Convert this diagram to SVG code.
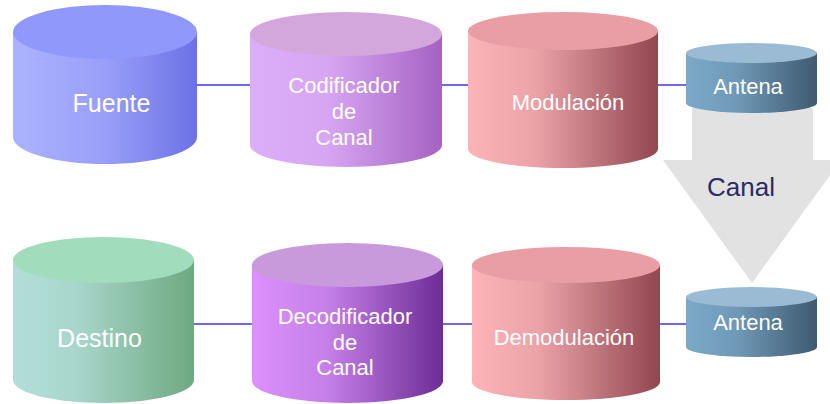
<svg xmlns="http://www.w3.org/2000/svg" width="830" height="404" viewBox="0 0 830 404">
<defs>
<linearGradient id="gBlue" x1="0" x2="1" y1="0" y2="0"><stop offset="0" stop-color="#acb3fd"/><stop offset="0.5" stop-color="#999ff8"/><stop offset="1" stop-color="#6b72e6"/></linearGradient>
<linearGradient id="gLil" x1="0" x2="1" y1="0" y2="0"><stop offset="0" stop-color="#dcaefa"/><stop offset="0.4" stop-color="#d7a6f2"/><stop offset="1" stop-color="#a462c2"/></linearGradient>
<linearGradient id="gPink" x1="0" x2="1" y1="0" y2="0"><stop offset="0" stop-color="#fcb4b9"/><stop offset="0.35" stop-color="#eba3a8"/><stop offset="1" stop-color="#924650"/></linearGradient>
<linearGradient id="gSteel" x1="0" x2="1" y1="0" y2="0"><stop offset="0" stop-color="#7ca9c9"/><stop offset="0.4" stop-color="#6e98b6"/><stop offset="1" stop-color="#3e5a70"/></linearGradient>
<linearGradient id="gGreen" x1="0" x2="1" y1="0" y2="0"><stop offset="0" stop-color="#b2ded8"/><stop offset="0.35" stop-color="#a8d6cc"/><stop offset="1" stop-color="#6ea880"/></linearGradient>
<linearGradient id="gPurple" x1="0" x2="1" y1="0" y2="0"><stop offset="0" stop-color="#dd90fb"/><stop offset="0.4" stop-color="#c47fe6"/><stop offset="1" stop-color="#6d2c96"/></linearGradient>
</defs>
<style>
.lbl{font-family:"Liberation Sans",Arial,sans-serif;font-size:22px;fill:#ffffff;text-anchor:middle;dominant-baseline:central}
.big{font-size:25px}
.conn{stroke:#6a6af2;stroke-width:2;fill:none}
</style>
<g id="connectors">
<path d="M692,108 L813,108 L813,160 L841,160 L752,283 L663,160 L692,160 Z" fill="#e2e2e2"/>
<text x="741" y="187" font-family="'Liberation Sans',Arial,sans-serif" font-size="26" fill="#2b2b66" text-anchor="middle" dominant-baseline="central">Canal</text>
<line class="conn" x1="196" y1="85" x2="251" y2="85"/>
<line class="conn" x1="441" y1="85" x2="469" y2="85"/>
<line class="conn" x1="657" y1="85" x2="687" y2="85"/>
<line class="conn" x1="193" y1="324" x2="253" y2="324" stroke-width="1.5"/>
<line class="conn" x1="442" y1="324" x2="473" y2="324" stroke-width="1.5"/>
<line class="conn" x1="659" y1="324" x2="687" y2="324" stroke-width="1.5"/>
</g>
<g id="fuente">
<path d="M13,32 L13,137 A92,27 0 0 0 197,137 L197,32 Z" fill="url(#gBlue)"/>
<ellipse cx="105" cy="32" rx="92" ry="27" fill="#9198fb"/>
<text class="lbl big" x="111.5" y="103">Fuente</text>
</g>
<g id="codificador">
<path d="M250,34 L250,145 A96,22 0 0 0 442,145 L442,34 Z" fill="url(#gLil)"/>
<ellipse cx="346" cy="34" rx="96" ry="22" fill="#d4a7dc"/>
<text class="lbl" x="344" y="85">Codificador</text>
<text class="lbl" x="344" y="111">de</text>
<text class="lbl" x="344" y="137">Canal</text>
</g>
<g id="modulacion">
<path d="M468,31 L468,149 A95,19 0 0 0 658,149 L658,31 Z" fill="url(#gPink)"/>
<ellipse cx="563" cy="31" rx="95" ry="19" fill="#e99ea6"/>
<text class="lbl" x="568" y="102">Modulación</text>
</g>
<g id="antena1">
<path d="M686,53 L686,103 A65.5,10 0 0 0 817,103 L817,53 Z" fill="url(#gSteel)"/>
<ellipse cx="751.5" cy="53" rx="65.5" ry="10" fill="#9bbbd4"/>
<text class="lbl" x="748" y="86">Antena</text>
</g>
<g id="destino">
<path d="M13,260 L13,380 A90.5,23 0 0 0 194,380 L194,260 Z" fill="url(#gGreen)"/>
<ellipse cx="103.5" cy="260" rx="90.5" ry="23" fill="#a1dcbc"/>
<text class="lbl big" x="99.5" y="338">Destino</text>
</g>
<g id="decodificador">
<path d="M252,265 L252,381 A95.5,22 0 0 0 443,381 L443,265 Z" fill="url(#gPurple)"/>
<ellipse cx="347.5" cy="265" rx="95.5" ry="22" fill="#c99adb"/>
<text class="lbl" x="345" y="316">Decodificador</text>
<text class="lbl" x="345" y="342">de</text>
<text class="lbl" x="345" y="367">Canal</text>
</g>
<g id="demodulacion">
<path d="M472,265 L472,382 A94,18 0 0 0 660,382 L660,265 Z" fill="url(#gPink)"/>
<ellipse cx="566" cy="265" rx="94" ry="18" fill="#e99ea6"/>
<text class="lbl" x="564" y="337">Demodulación</text>
</g>
<g id="antena2">
<path d="M686,297 L686,347 A65.5,10 0 0 0 817,347 L817,297 Z" fill="url(#gSteel)"/>
<ellipse cx="751.5" cy="297" rx="65.5" ry="10" fill="#9bbbd4"/>
<text class="lbl" x="748" y="322">Antena</text>
</g>
</svg>
